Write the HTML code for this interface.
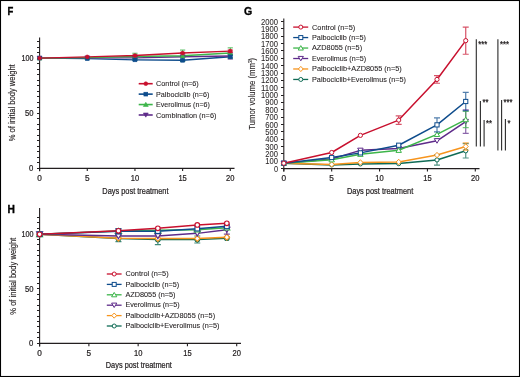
<!DOCTYPE html>
<html><head><meta charset="utf-8"><title>Figure</title>
<style>html,body{margin:0;padding:0;background:#fff;width:520px;height:377px;overflow:hidden;font-family:"Liberation Sans",sans-serif;}</style>
</head><body>
<svg width="520" height="377" viewBox="0 0 520 377" style="display:block;will-change:transform" font-family="Liberation Sans, sans-serif">
<rect x="0" y="0" width="520" height="377" fill="#fff"/>
<text x="7.4" y="15.4" font-size="11.2" text-anchor="start" fill="#000" stroke="#000" stroke-width="0.35" font-weight="bold" textLength="5.8" lengthAdjust="spacingAndGlyphs">F</text>
<text x="243.9" y="15.3" font-size="11.0" text-anchor="start" fill="#000" stroke="#000" stroke-width="0.35" font-weight="bold" textLength="8.2" lengthAdjust="spacingAndGlyphs">G</text>
<text x="7.5" y="212.6" font-size="10.8" text-anchor="start" fill="#000" stroke="#000" stroke-width="0.35" font-weight="bold" textLength="7.4" lengthAdjust="spacingAndGlyphs">H</text>
<path d="M39.6,37.6 V171.3" stroke="#231f20" stroke-width="1.1" fill="none"/>
<path d="M37.0,168.50 H39.6" stroke="#231f20" stroke-width="1.0"/>
<path d="M37.0,162.50 H39.6" stroke="#231f20" stroke-width="1.0"/>
<path d="M37.0,157.50 H39.6" stroke="#231f20" stroke-width="1.0"/>
<path d="M37.0,151.50 H39.6" stroke="#231f20" stroke-width="1.0"/>
<path d="M37.0,146.50 H39.6" stroke="#231f20" stroke-width="1.0"/>
<path d="M37.0,140.50 H39.6" stroke="#231f20" stroke-width="1.0"/>
<path d="M37.0,135.50 H39.6" stroke="#231f20" stroke-width="1.0"/>
<path d="M37.0,129.50 H39.6" stroke="#231f20" stroke-width="1.0"/>
<path d="M37.0,124.50 H39.6" stroke="#231f20" stroke-width="1.0"/>
<path d="M37.0,118.50 H39.6" stroke="#231f20" stroke-width="1.0"/>
<path d="M37.0,113.50 H39.6" stroke="#231f20" stroke-width="1.0"/>
<path d="M37.0,107.50 H39.6" stroke="#231f20" stroke-width="1.0"/>
<path d="M37.0,102.50 H39.6" stroke="#231f20" stroke-width="1.0"/>
<path d="M37.0,96.50 H39.6" stroke="#231f20" stroke-width="1.0"/>
<path d="M37.0,91.50 H39.6" stroke="#231f20" stroke-width="1.0"/>
<path d="M37.0,85.50 H39.6" stroke="#231f20" stroke-width="1.0"/>
<path d="M37.0,80.50 H39.6" stroke="#231f20" stroke-width="1.0"/>
<path d="M37.0,74.50 H39.6" stroke="#231f20" stroke-width="1.0"/>
<path d="M37.0,69.50 H39.6" stroke="#231f20" stroke-width="1.0"/>
<path d="M37.0,63.50 H39.6" stroke="#231f20" stroke-width="1.0"/>
<path d="M37.0,58.50 H39.6" stroke="#231f20" stroke-width="1.0"/>
<path d="M37.0,52.50 H39.6" stroke="#231f20" stroke-width="1.0"/>
<path d="M37.0,47.50 H39.6" stroke="#231f20" stroke-width="1.0"/>
<path d="M37.0,41.50 H39.6" stroke="#231f20" stroke-width="1.0"/>
<text x="33.4" y="171.20" font-size="8.2" text-anchor="end" fill="#231f20" stroke="#231f20" stroke-width="0.22" textLength="4.3" lengthAdjust="spacingAndGlyphs">0</text>
<text x="33.4" y="116.10" font-size="8.2" text-anchor="end" fill="#231f20" stroke="#231f20" stroke-width="0.22" textLength="8.5" lengthAdjust="spacingAndGlyphs">50</text>
<text x="33.4" y="61.00" font-size="8.2" text-anchor="end" fill="#231f20" stroke="#231f20" stroke-width="0.22" textLength="12.0" lengthAdjust="spacingAndGlyphs">100</text>
<text x="15.2" y="102.8" font-size="9.4" text-anchor="middle" fill="#231f20" stroke="#231f20" stroke-width="0.15" textLength="77" lengthAdjust="spacingAndGlyphs" transform="rotate(-90 15.2 102.8)">% of initial body weight</text>
<path d="M39.6,168.3 H234.5" stroke="#231f20" stroke-width="1.2" fill="none"/>
<path d="M39.60,168.3 V171.10000000000002" stroke="#231f20" stroke-width="1.1"/>
<text x="39.60" y="180.90" font-size="8.2" text-anchor="middle" fill="#231f20" stroke="#231f20" stroke-width="0.22" textLength="4.6" lengthAdjust="spacingAndGlyphs">0</text>
<path d="M87.28,168.3 V171.10000000000002" stroke="#231f20" stroke-width="1.1"/>
<text x="87.28" y="180.90" font-size="8.2" text-anchor="middle" fill="#231f20" stroke="#231f20" stroke-width="0.22" textLength="4.6" lengthAdjust="spacingAndGlyphs">5</text>
<path d="M134.95,168.3 V171.10000000000002" stroke="#231f20" stroke-width="1.1"/>
<text x="134.95" y="180.90" font-size="8.2" text-anchor="middle" fill="#231f20" stroke="#231f20" stroke-width="0.22" textLength="8.4" lengthAdjust="spacingAndGlyphs">10</text>
<path d="M182.62,168.3 V171.10000000000002" stroke="#231f20" stroke-width="1.1"/>
<text x="182.62" y="180.90" font-size="8.2" text-anchor="middle" fill="#231f20" stroke="#231f20" stroke-width="0.22" textLength="8.4" lengthAdjust="spacingAndGlyphs">15</text>
<path d="M230.30,168.3 V171.10000000000002" stroke="#231f20" stroke-width="1.1"/>
<text x="230.30" y="180.90" font-size="8.2" text-anchor="middle" fill="#231f20" stroke="#231f20" stroke-width="0.22" textLength="8.4" lengthAdjust="spacingAndGlyphs">20</text>
<text x="102.3" y="194.0" font-size="8.6" text-anchor="start" fill="#231f20" stroke="#231f20" stroke-width="0.22" textLength="66.2" lengthAdjust="spacingAndGlyphs">Days post treatment</text>
<polyline points="39.60,58.10 87.28,58.65 134.95,59.86 182.62,60.30 230.30,56.78" fill="none" stroke="#0e4c8c" stroke-width="1.4" stroke-linejoin="round"/>
<polyline points="39.60,58.10 87.28,57.88 134.95,57.88 182.62,56.78 230.30,56.01" fill="none" stroke="#5e2b8a" stroke-width="1.4" stroke-linejoin="round"/>
<polyline points="39.60,58.10 87.28,57.66 134.95,56.56 182.62,55.79 230.30,53.03" fill="none" stroke="#3db54a" stroke-width="1.4" stroke-linejoin="round"/>
<polyline points="39.60,58.10 87.28,56.89 134.95,55.57 182.62,53.03 230.30,51.16" fill="none" stroke="#c8102e" stroke-width="1.4" stroke-linejoin="round"/>
<path d="M134.95,57.33 V58.43 M132.35,57.33 H137.55 M132.35,58.43 H137.55" stroke="#5e2b8a" stroke-width="0.9" fill="none"/>
<path d="M182.62,56.23 V57.33 M180.03,56.23 H185.22 M180.03,57.33 H185.22" stroke="#5e2b8a" stroke-width="0.9" fill="none"/>
<path d="M230.30,52.92 V59.09 M227.70,52.92 H232.90 M227.70,59.09 H232.90" stroke="#5e2b8a" stroke-width="0.9" fill="none"/>
<path d="M39.60,60.29 L42.07,56.11 L37.13,56.11 Z" fill="#5e2b8a" stroke="#5e2b8a" stroke-width="0.6" stroke-linejoin="miter"/>
<path d="M87.28,60.06 L89.75,55.88 L84.81,55.88 Z" fill="#5e2b8a" stroke="#5e2b8a" stroke-width="0.6" stroke-linejoin="miter"/>
<path d="M134.95,60.06 L137.42,55.88 L132.48,55.88 Z" fill="#5e2b8a" stroke="#5e2b8a" stroke-width="0.6" stroke-linejoin="miter"/>
<path d="M182.62,58.96 L185.09,54.78 L180.16,54.78 Z" fill="#5e2b8a" stroke="#5e2b8a" stroke-width="0.6" stroke-linejoin="miter"/>
<path d="M230.30,58.19 L232.77,54.01 L227.83,54.01 Z" fill="#5e2b8a" stroke="#5e2b8a" stroke-width="0.6" stroke-linejoin="miter"/>
<path d="M134.95,53.25 V59.86 M132.35,53.25 H137.55 M132.35,59.86 H137.55" stroke="#3db54a" stroke-width="0.9" fill="none"/>
<path d="M182.62,50.06 V61.52 M180.03,50.06 H185.22 M180.03,61.52 H185.22" stroke="#3db54a" stroke-width="0.9" fill="none"/>
<path d="M230.30,47.85 V58.21 M227.70,47.85 H232.90 M227.70,58.21 H232.90" stroke="#3db54a" stroke-width="0.9" fill="none"/>
<path d="M39.60,55.82 L42.07,60.00 L37.13,60.00 Z" fill="#3db54a" stroke="#3db54a" stroke-width="0.6" stroke-linejoin="miter"/>
<path d="M87.28,55.38 L89.75,59.56 L84.81,59.56 Z" fill="#3db54a" stroke="#3db54a" stroke-width="0.6" stroke-linejoin="miter"/>
<path d="M134.95,54.28 L137.42,58.46 L132.48,58.46 Z" fill="#3db54a" stroke="#3db54a" stroke-width="0.6" stroke-linejoin="miter"/>
<path d="M182.62,53.51 L185.09,57.69 L180.16,57.69 Z" fill="#3db54a" stroke="#3db54a" stroke-width="0.6" stroke-linejoin="miter"/>
<path d="M230.30,50.75 L232.77,54.93 L227.83,54.93 Z" fill="#3db54a" stroke="#3db54a" stroke-width="0.6" stroke-linejoin="miter"/>
<path d="M134.95,59.20 V60.52 M132.35,59.20 H137.55 M132.35,60.52 H137.55" stroke="#0e4c8c" stroke-width="0.9" fill="none"/>
<path d="M182.62,59.64 V60.97 M180.03,59.64 H185.22 M180.03,60.97 H185.22" stroke="#0e4c8c" stroke-width="0.9" fill="none"/>
<path d="M230.30,55.68 V57.88 M227.70,55.68 H232.90 M227.70,57.88 H232.90" stroke="#0e4c8c" stroke-width="0.9" fill="none"/>
<rect x="37.70" y="56.20" width="3.80" height="3.80" fill="#0e4c8c" stroke="#0e4c8c" stroke-width="0.6"/>
<rect x="85.38" y="56.75" width="3.80" height="3.80" fill="#0e4c8c" stroke="#0e4c8c" stroke-width="0.6"/>
<rect x="133.05" y="57.96" width="3.80" height="3.80" fill="#0e4c8c" stroke="#0e4c8c" stroke-width="0.6"/>
<rect x="180.72" y="58.40" width="3.80" height="3.80" fill="#0e4c8c" stroke="#0e4c8c" stroke-width="0.6"/>
<rect x="228.40" y="54.88" width="3.80" height="3.80" fill="#0e4c8c" stroke="#0e4c8c" stroke-width="0.6"/>
<path d="M134.95,54.90 V56.23 M132.35,54.90 H137.55 M132.35,56.23 H137.55" stroke="#c8102e" stroke-width="0.9" fill="none"/>
<path d="M182.62,52.37 V53.69 M180.03,52.37 H185.22 M180.03,53.69 H185.22" stroke="#c8102e" stroke-width="0.9" fill="none"/>
<path d="M230.30,50.06 V52.26 M227.70,50.06 H232.90 M227.70,52.26 H232.90" stroke="#c8102e" stroke-width="0.9" fill="none"/>
<circle cx="39.60" cy="58.10" r="1.90" fill="#c8102e" stroke="#c8102e" stroke-width="0.6"/>
<circle cx="87.28" cy="56.89" r="1.90" fill="#c8102e" stroke="#c8102e" stroke-width="0.6"/>
<circle cx="134.95" cy="55.57" r="1.90" fill="#c8102e" stroke="#c8102e" stroke-width="0.6"/>
<circle cx="182.62" cy="53.03" r="1.90" fill="#c8102e" stroke="#c8102e" stroke-width="0.6"/>
<circle cx="230.30" cy="51.16" r="1.90" fill="#c8102e" stroke="#c8102e" stroke-width="0.6"/>
<path d="M138.7,83.70 H152.7" stroke="#c8102e" stroke-width="1.6"/>
<circle cx="145.80" cy="83.70" r="1.90" fill="#c8102e" stroke="#c8102e" stroke-width="0.6"/>
<text x="156.0" y="86.30" font-size="7.3" text-anchor="start" fill="#231f20" stroke="#231f20" stroke-width="0.08" textLength="42.8" lengthAdjust="spacingAndGlyphs">Control (n=6)</text>
<path d="M138.7,94.13 H152.7" stroke="#0e4c8c" stroke-width="1.6"/>
<rect x="143.90" y="92.23" width="3.80" height="3.80" fill="#0e4c8c" stroke="#0e4c8c" stroke-width="0.6"/>
<text x="156.0" y="96.73" font-size="7.3" text-anchor="start" fill="#231f20" stroke="#231f20" stroke-width="0.08" textLength="53.4" lengthAdjust="spacingAndGlyphs">Palbociclib (n=6)</text>
<path d="M138.7,104.56 H152.7" stroke="#3db54a" stroke-width="1.6"/>
<path d="M145.80,102.28 L148.27,106.46 L143.33,106.46 Z" fill="#3db54a" stroke="#3db54a" stroke-width="0.6" stroke-linejoin="miter"/>
<text x="156.0" y="107.16" font-size="7.3" text-anchor="start" fill="#231f20" stroke="#231f20" stroke-width="0.08" textLength="53.9" lengthAdjust="spacingAndGlyphs">Everolimus (n=6)</text>
<path d="M138.7,114.99 H152.7" stroke="#5e2b8a" stroke-width="1.6"/>
<path d="M145.80,117.18 L148.27,113.00 L143.33,113.00 Z" fill="#5e2b8a" stroke="#5e2b8a" stroke-width="0.6" stroke-linejoin="miter"/>
<text x="156.0" y="117.59" font-size="7.3" text-anchor="start" fill="#231f20" stroke="#231f20" stroke-width="0.08" textLength="60.4" lengthAdjust="spacingAndGlyphs">Combination (n=6)</text>
<path d="M283.8,18.4 V171.6" stroke="#231f20" stroke-width="1.1" fill="none"/>
<path d="M281.0,168.50 H283.8" stroke="#231f20" stroke-width="1.0"/>
<text x="278.0" y="171.60" font-size="8.6" text-anchor="end" fill="#231f20" stroke="#231f20" stroke-width="0.05" textLength="4.1" lengthAdjust="spacingAndGlyphs">0</text>
<path d="M281.0,161.50 H283.8" stroke="#231f20" stroke-width="1.0"/>
<text x="278.0" y="164.25" font-size="8.6" text-anchor="end" fill="#231f20" stroke="#231f20" stroke-width="0.05" textLength="12.7" lengthAdjust="spacingAndGlyphs">100</text>
<path d="M281.0,153.50 H283.8" stroke="#231f20" stroke-width="1.0"/>
<text x="278.0" y="156.90" font-size="8.6" text-anchor="end" fill="#231f20" stroke="#231f20" stroke-width="0.05" textLength="12.7" lengthAdjust="spacingAndGlyphs">200</text>
<path d="M281.0,146.50 H283.8" stroke="#231f20" stroke-width="1.0"/>
<text x="278.0" y="149.55" font-size="8.6" text-anchor="end" fill="#231f20" stroke="#231f20" stroke-width="0.05" textLength="12.7" lengthAdjust="spacingAndGlyphs">300</text>
<path d="M281.0,139.50 H283.8" stroke="#231f20" stroke-width="1.0"/>
<text x="278.0" y="142.20" font-size="8.6" text-anchor="end" fill="#231f20" stroke="#231f20" stroke-width="0.05" textLength="12.7" lengthAdjust="spacingAndGlyphs">400</text>
<path d="M281.0,131.50 H283.8" stroke="#231f20" stroke-width="1.0"/>
<text x="278.0" y="134.85" font-size="8.6" text-anchor="end" fill="#231f20" stroke="#231f20" stroke-width="0.05" textLength="12.7" lengthAdjust="spacingAndGlyphs">500</text>
<path d="M281.0,124.50 H283.8" stroke="#231f20" stroke-width="1.0"/>
<text x="278.0" y="127.50" font-size="8.6" text-anchor="end" fill="#231f20" stroke="#231f20" stroke-width="0.05" textLength="12.7" lengthAdjust="spacingAndGlyphs">600</text>
<path d="M281.0,117.50 H283.8" stroke="#231f20" stroke-width="1.0"/>
<text x="278.0" y="120.15" font-size="8.6" text-anchor="end" fill="#231f20" stroke="#231f20" stroke-width="0.05" textLength="12.7" lengthAdjust="spacingAndGlyphs">700</text>
<path d="M281.0,109.50 H283.8" stroke="#231f20" stroke-width="1.0"/>
<text x="278.0" y="112.80" font-size="8.6" text-anchor="end" fill="#231f20" stroke="#231f20" stroke-width="0.05" textLength="12.7" lengthAdjust="spacingAndGlyphs">800</text>
<path d="M281.0,102.50 H283.8" stroke="#231f20" stroke-width="1.0"/>
<text x="278.0" y="105.45" font-size="8.6" text-anchor="end" fill="#231f20" stroke="#231f20" stroke-width="0.05" textLength="12.7" lengthAdjust="spacingAndGlyphs">900</text>
<path d="M281.0,95.50 H283.8" stroke="#231f20" stroke-width="1.0"/>
<text x="278.0" y="98.10" font-size="8.6" text-anchor="end" fill="#231f20" stroke="#231f20" stroke-width="0.05" textLength="17.0" lengthAdjust="spacingAndGlyphs">1000</text>
<path d="M281.0,87.50 H283.8" stroke="#231f20" stroke-width="1.0"/>
<text x="278.0" y="90.75" font-size="8.6" text-anchor="end" fill="#231f20" stroke="#231f20" stroke-width="0.05" textLength="17.0" lengthAdjust="spacingAndGlyphs">1100</text>
<path d="M281.0,80.50 H283.8" stroke="#231f20" stroke-width="1.0"/>
<text x="278.0" y="83.40" font-size="8.6" text-anchor="end" fill="#231f20" stroke="#231f20" stroke-width="0.05" textLength="17.0" lengthAdjust="spacingAndGlyphs">1200</text>
<path d="M281.0,73.50 H283.8" stroke="#231f20" stroke-width="1.0"/>
<text x="278.0" y="76.05" font-size="8.6" text-anchor="end" fill="#231f20" stroke="#231f20" stroke-width="0.05" textLength="17.0" lengthAdjust="spacingAndGlyphs">1300</text>
<path d="M281.0,65.50 H283.8" stroke="#231f20" stroke-width="1.0"/>
<text x="278.0" y="68.70" font-size="8.6" text-anchor="end" fill="#231f20" stroke="#231f20" stroke-width="0.05" textLength="17.0" lengthAdjust="spacingAndGlyphs">1400</text>
<path d="M281.0,58.50 H283.8" stroke="#231f20" stroke-width="1.0"/>
<text x="278.0" y="61.35" font-size="8.6" text-anchor="end" fill="#231f20" stroke="#231f20" stroke-width="0.05" textLength="17.0" lengthAdjust="spacingAndGlyphs">1500</text>
<path d="M281.0,50.50 H283.8" stroke="#231f20" stroke-width="1.0"/>
<text x="278.0" y="54.00" font-size="8.6" text-anchor="end" fill="#231f20" stroke="#231f20" stroke-width="0.05" textLength="17.0" lengthAdjust="spacingAndGlyphs">1600</text>
<path d="M281.0,43.50 H283.8" stroke="#231f20" stroke-width="1.0"/>
<text x="278.0" y="46.65" font-size="8.6" text-anchor="end" fill="#231f20" stroke="#231f20" stroke-width="0.05" textLength="17.0" lengthAdjust="spacingAndGlyphs">1700</text>
<path d="M281.0,36.50 H283.8" stroke="#231f20" stroke-width="1.0"/>
<text x="278.0" y="39.30" font-size="8.6" text-anchor="end" fill="#231f20" stroke="#231f20" stroke-width="0.05" textLength="17.0" lengthAdjust="spacingAndGlyphs">1800</text>
<path d="M281.0,28.50 H283.8" stroke="#231f20" stroke-width="1.0"/>
<text x="278.0" y="31.95" font-size="8.6" text-anchor="end" fill="#231f20" stroke="#231f20" stroke-width="0.05" textLength="17.0" lengthAdjust="spacingAndGlyphs">1900</text>
<path d="M281.0,21.50 H283.8" stroke="#231f20" stroke-width="1.0"/>
<text x="278.0" y="24.60" font-size="8.6" text-anchor="end" fill="#231f20" stroke="#231f20" stroke-width="0.05" textLength="17.0" lengthAdjust="spacingAndGlyphs">2000</text>
<path d="M283.8,168.6 H479.5" stroke="#231f20" stroke-width="1.2" fill="none"/>
<path d="M283.80,168.6 V171.4" stroke="#231f20" stroke-width="1.1"/>
<text x="283.80" y="181.20" font-size="8.2" text-anchor="middle" fill="#231f20" stroke="#231f20" stroke-width="0.22" textLength="4.6" lengthAdjust="spacingAndGlyphs">0</text>
<path d="M331.68,168.6 V171.4" stroke="#231f20" stroke-width="1.1"/>
<text x="331.68" y="181.20" font-size="8.2" text-anchor="middle" fill="#231f20" stroke="#231f20" stroke-width="0.22" textLength="4.6" lengthAdjust="spacingAndGlyphs">5</text>
<path d="M379.55,168.6 V171.4" stroke="#231f20" stroke-width="1.1"/>
<text x="379.55" y="181.20" font-size="8.2" text-anchor="middle" fill="#231f20" stroke="#231f20" stroke-width="0.22" textLength="8.4" lengthAdjust="spacingAndGlyphs">10</text>
<path d="M427.43,168.6 V171.4" stroke="#231f20" stroke-width="1.1"/>
<text x="427.43" y="181.20" font-size="8.2" text-anchor="middle" fill="#231f20" stroke="#231f20" stroke-width="0.22" textLength="8.4" lengthAdjust="spacingAndGlyphs">15</text>
<path d="M475.30,168.6 V171.4" stroke="#231f20" stroke-width="1.1"/>
<text x="475.30" y="181.20" font-size="8.2" text-anchor="middle" fill="#231f20" stroke="#231f20" stroke-width="0.22" textLength="8.4" lengthAdjust="spacingAndGlyphs">20</text>
<text x="346.9" y="194.0" font-size="8.6" text-anchor="start" fill="#231f20" stroke="#231f20" stroke-width="0.22" textLength="66.4" lengthAdjust="spacingAndGlyphs">Days post treatment</text>
<text x="255.3" y="93.8" font-size="9.8" text-anchor="middle" fill="#231f20" stroke="#231f20" stroke-width="0.12" transform="rotate(-90 255.3 93.8)" textLength="72" lengthAdjust="spacingAndGlyphs">Tumor volume (mm<tspan font-size="6" dy="-3.6">3</tspan><tspan dy="3.6">)</tspan></text>
<polyline points="283.80,163.23 331.68,164.92 360.40,163.90 398.70,163.60 437.00,159.93 465.73,150.81" fill="none" stroke="#0f6b55" stroke-width="1.5" stroke-linejoin="round"/>
<polyline points="283.80,163.23 331.68,164.41 360.40,162.43 398.70,161.98 437.00,155.08 465.73,146.48" fill="none" stroke="#f7941d" stroke-width="1.5" stroke-linejoin="round"/>
<polyline points="283.80,163.23 331.68,159.04 360.40,150.37 398.70,148.39 437.00,140.82 465.73,121.56" fill="none" stroke="#5e2b8a" stroke-width="1.5" stroke-linejoin="round"/>
<polyline points="283.80,163.23 331.68,159.78 360.40,154.27 398.70,150.30 437.00,134.42 465.73,119.58" fill="none" stroke="#3db54a" stroke-width="1.5" stroke-linejoin="round"/>
<polyline points="283.80,163.23 331.68,157.50 360.40,152.87 398.70,145.23 437.00,124.87 465.73,101.49" fill="none" stroke="#0e4c8c" stroke-width="1.5" stroke-linejoin="round"/>
<polyline points="283.80,163.23 331.68,152.50 360.40,135.38 398.70,120.09 437.00,79.44 465.73,40.64" fill="none" stroke="#c8102e" stroke-width="1.5" stroke-linejoin="round"/>
<path d="M437.00,154.78 V165.07 M434.00,154.78 H440.00 M434.00,165.07 H440.00" stroke="#0f6b55" stroke-opacity="0.72" stroke-width="1.2" fill="none"/>
<path d="M465.73,143.61 V158.02 M462.73,143.61 H468.73 M462.73,158.02 H468.73" stroke="#0f6b55" stroke-opacity="0.72" stroke-width="1.2" fill="none"/>
<circle cx="283.80" cy="163.23" r="2.10" fill="#fff" stroke="#0f6b55" stroke-width="1.0"/>
<circle cx="331.68" cy="164.92" r="2.10" fill="#fff" stroke="#0f6b55" stroke-width="1.0"/>
<circle cx="360.40" cy="163.90" r="2.10" fill="#fff" stroke="#0f6b55" stroke-width="1.0"/>
<circle cx="398.70" cy="163.60" r="2.10" fill="#fff" stroke="#0f6b55" stroke-width="1.0"/>
<circle cx="437.00" cy="159.93" r="2.10" fill="#fff" stroke="#0f6b55" stroke-width="1.0"/>
<circle cx="465.73" cy="150.81" r="2.10" fill="#fff" stroke="#0f6b55" stroke-width="1.0"/>
<path d="M465.73,142.80 V150.15 M462.73,142.80 H468.73 M462.73,150.15 H468.73" stroke="#f7941d" stroke-opacity="0.72" stroke-width="1.2" fill="none"/>
<path d="M283.80,160.50 L286.32,163.23 L283.80,165.96 L281.28,163.23 Z" fill="#fff" stroke="#f7941d" stroke-width="1.0"/>
<path d="M331.68,161.68 L334.19,164.41 L331.68,167.14 L329.16,164.41 Z" fill="#fff" stroke="#f7941d" stroke-width="1.0"/>
<path d="M360.40,159.70 L362.92,162.43 L360.40,165.16 L357.88,162.43 Z" fill="#fff" stroke="#f7941d" stroke-width="1.0"/>
<path d="M398.70,159.25 L401.22,161.98 L398.70,164.71 L396.18,161.98 Z" fill="#fff" stroke="#f7941d" stroke-width="1.0"/>
<path d="M437.00,152.35 L439.52,155.08 L437.00,157.81 L434.48,155.08 Z" fill="#fff" stroke="#f7941d" stroke-width="1.0"/>
<path d="M465.73,143.75 L468.25,146.48 L465.73,149.21 L463.21,146.48 Z" fill="#fff" stroke="#f7941d" stroke-width="1.0"/>
<path d="M465.73,109.80 V133.32 M462.73,109.80 H468.73 M462.73,133.32 H468.73" stroke="#5e2b8a" stroke-opacity="0.72" stroke-width="1.2" fill="none"/>
<path d="M283.80,165.65 L286.53,161.03 L281.07,161.03 Z" fill="#fff" stroke="#5e2b8a" stroke-width="1.0" stroke-linejoin="miter"/>
<path d="M331.68,161.46 L334.41,156.84 L328.94,156.84 Z" fill="#fff" stroke="#5e2b8a" stroke-width="1.0" stroke-linejoin="miter"/>
<path d="M360.40,152.79 L363.13,148.17 L357.67,148.17 Z" fill="#fff" stroke="#5e2b8a" stroke-width="1.0" stroke-linejoin="miter"/>
<path d="M398.70,150.80 L401.43,146.18 L395.97,146.18 Z" fill="#fff" stroke="#5e2b8a" stroke-width="1.0" stroke-linejoin="miter"/>
<path d="M437.00,143.23 L439.73,138.61 L434.27,138.61 Z" fill="#fff" stroke="#5e2b8a" stroke-width="1.0" stroke-linejoin="miter"/>
<path d="M465.73,123.98 L468.46,119.36 L463.00,119.36 Z" fill="#fff" stroke="#5e2b8a" stroke-width="1.0" stroke-linejoin="miter"/>
<path d="M465.73,111.49 V127.66 M462.73,111.49 H468.73 M462.73,127.66 H468.73" stroke="#3db54a" stroke-opacity="0.72" stroke-width="1.2" fill="none"/>
<path d="M283.80,160.71 L286.53,165.33 L281.07,165.33 Z" fill="#fff" stroke="#3db54a" stroke-width="1.0" stroke-linejoin="miter"/>
<path d="M331.68,157.26 L334.41,161.88 L328.94,161.88 Z" fill="#fff" stroke="#3db54a" stroke-width="1.0" stroke-linejoin="miter"/>
<path d="M360.40,151.75 L363.13,156.37 L357.67,156.37 Z" fill="#fff" stroke="#3db54a" stroke-width="1.0" stroke-linejoin="miter"/>
<path d="M398.70,147.78 L401.43,152.40 L395.97,152.40 Z" fill="#fff" stroke="#3db54a" stroke-width="1.0" stroke-linejoin="miter"/>
<path d="M437.00,131.90 L439.73,136.52 L434.27,136.52 Z" fill="#fff" stroke="#3db54a" stroke-width="1.0" stroke-linejoin="miter"/>
<path d="M465.73,117.06 L468.46,121.68 L463.00,121.68 Z" fill="#fff" stroke="#3db54a" stroke-width="1.0" stroke-linejoin="miter"/>
<path d="M437.00,117.88 V131.85 M434.00,117.88 H440.00 M434.00,131.85 H440.00" stroke="#0e4c8c" stroke-opacity="0.72" stroke-width="1.2" fill="none"/>
<path d="M465.73,92.31 V110.68 M462.73,92.31 H468.73 M462.73,110.68 H468.73" stroke="#0e4c8c" stroke-opacity="0.72" stroke-width="1.2" fill="none"/>
<rect x="281.70" y="161.13" width="4.20" height="4.20" fill="#fff" stroke="#0e4c8c" stroke-width="1.0"/>
<rect x="329.57" y="155.40" width="4.20" height="4.20" fill="#fff" stroke="#0e4c8c" stroke-width="1.0"/>
<rect x="358.30" y="150.77" width="4.20" height="4.20" fill="#fff" stroke="#0e4c8c" stroke-width="1.0"/>
<rect x="396.60" y="143.13" width="4.20" height="4.20" fill="#fff" stroke="#0e4c8c" stroke-width="1.0"/>
<rect x="434.90" y="122.77" width="4.20" height="4.20" fill="#fff" stroke="#0e4c8c" stroke-width="1.0"/>
<rect x="463.62" y="99.39" width="4.20" height="4.20" fill="#fff" stroke="#0e4c8c" stroke-width="1.0"/>
<path d="M398.70,115.90 V124.28 M395.70,115.90 H401.70 M395.70,124.28 H401.70" stroke="#c8102e" stroke-opacity="0.72" stroke-width="1.2" fill="none"/>
<path d="M437.00,75.62 V83.27 M434.00,75.62 H440.00 M434.00,83.27 H440.00" stroke="#c8102e" stroke-opacity="0.72" stroke-width="1.2" fill="none"/>
<path d="M465.73,27.04 V54.23 M462.73,27.04 H468.73 M462.73,54.23 H468.73" stroke="#c8102e" stroke-opacity="0.72" stroke-width="1.2" fill="none"/>
<circle cx="283.80" cy="163.23" r="2.10" fill="#fff" stroke="#c8102e" stroke-width="1.0"/>
<circle cx="331.68" cy="152.50" r="2.10" fill="#fff" stroke="#c8102e" stroke-width="1.0"/>
<circle cx="360.40" cy="135.38" r="2.10" fill="#fff" stroke="#c8102e" stroke-width="1.0"/>
<circle cx="398.70" cy="120.09" r="2.10" fill="#fff" stroke="#c8102e" stroke-width="1.0"/>
<circle cx="437.00" cy="79.44" r="2.10" fill="#fff" stroke="#c8102e" stroke-width="1.0"/>
<circle cx="465.73" cy="40.64" r="2.10" fill="#fff" stroke="#c8102e" stroke-width="1.0"/>
<path d="M293.2,27.10 H308.2" stroke="#c8102e" stroke-width="1.3"/>
<circle cx="300.80" cy="27.10" r="2.00" fill="#fff" stroke="#c8102e" stroke-width="1.0"/>
<text x="312.0" y="29.50" font-size="7.3" text-anchor="start" fill="#231f20" stroke="#231f20" stroke-width="0.08" textLength="43.2" lengthAdjust="spacingAndGlyphs">Control (n=5)</text>
<path d="M293.2,37.57 H308.2" stroke="#0e4c8c" stroke-width="1.3"/>
<rect x="298.80" y="35.57" width="4.00" height="4.00" fill="#fff" stroke="#0e4c8c" stroke-width="1.0"/>
<text x="312.0" y="39.97" font-size="7.3" text-anchor="start" fill="#231f20" stroke="#231f20" stroke-width="0.08" textLength="53.9" lengthAdjust="spacingAndGlyphs">Palbociclib (n=5)</text>
<path d="M293.2,48.04 H308.2" stroke="#3db54a" stroke-width="1.3"/>
<path d="M300.80,45.64 L303.40,50.04 L298.20,50.04 Z" fill="#fff" stroke="#3db54a" stroke-width="1.0" stroke-linejoin="miter"/>
<text x="312.0" y="50.44" font-size="7.3" text-anchor="start" fill="#231f20" stroke="#231f20" stroke-width="0.08" textLength="50.1" lengthAdjust="spacingAndGlyphs">AZD8055 (n=5)</text>
<path d="M293.2,58.51 H308.2" stroke="#5e2b8a" stroke-width="1.3"/>
<path d="M300.80,60.81 L303.40,56.41 L298.20,56.41 Z" fill="#fff" stroke="#5e2b8a" stroke-width="1.0" stroke-linejoin="miter"/>
<text x="312.0" y="60.91" font-size="7.3" text-anchor="start" fill="#231f20" stroke="#231f20" stroke-width="0.08" textLength="54.2" lengthAdjust="spacingAndGlyphs">Everolimus (n=5)</text>
<path d="M293.2,68.98 H308.2" stroke="#f7941d" stroke-width="1.3"/>
<path d="M300.80,66.38 L303.20,68.98 L300.80,71.58 L298.40,68.98 Z" fill="#fff" stroke="#f7941d" stroke-width="1.0"/>
<text x="312.0" y="71.38" font-size="7.3" text-anchor="start" fill="#231f20" stroke="#231f20" stroke-width="0.08" textLength="89.7" lengthAdjust="spacingAndGlyphs">Palbociclib+AZD8055 (n=5)</text>
<path d="M293.2,79.45 H308.2" stroke="#0f6b55" stroke-width="1.3"/>
<circle cx="300.80" cy="79.45" r="2.00" fill="#fff" stroke="#0f6b55" stroke-width="1.0"/>
<text x="312.0" y="81.85" font-size="7.3" text-anchor="start" fill="#231f20" stroke="#231f20" stroke-width="0.08" textLength="94.0" lengthAdjust="spacingAndGlyphs">Palbociclib+Everolimus (n=5)</text>
<path d="M476.3,39.3 V146.5" stroke="#2a2a2a" stroke-width="1.1"/>
<path d="M480.4,101 V146.5" stroke="#2a2a2a" stroke-width="1.1"/>
<path d="M484.1,120 V146.5" stroke="#2a2a2a" stroke-width="1.1"/>
<path d="M497.9,39.3 V150.4" stroke="#2a2a2a" stroke-width="1.1"/>
<path d="M501.6,100 V150.4" stroke="#2a2a2a" stroke-width="1.1"/>
<path d="M505.4,119 V150.4" stroke="#2a2a2a" stroke-width="1.1"/>
<text x="478.2" y="47.2" font-size="8.5" text-anchor="start" fill="#231f20" stroke="#231f20" stroke-width="0.25" textLength="9" lengthAdjust="spacingAndGlyphs">***</text>
<text x="500.0" y="47.2" font-size="8.5" text-anchor="start" fill="#231f20" stroke="#231f20" stroke-width="0.25" textLength="9" lengthAdjust="spacingAndGlyphs">***</text>
<text x="482.5" y="105.2" font-size="8.5" text-anchor="start" fill="#231f20" stroke="#231f20" stroke-width="0.25" textLength="6" lengthAdjust="spacingAndGlyphs">**</text>
<text x="503.5" y="105.2" font-size="8.5" text-anchor="start" fill="#231f20" stroke="#231f20" stroke-width="0.25" textLength="9" lengthAdjust="spacingAndGlyphs">***</text>
<text x="486" y="125.9" font-size="8.5" text-anchor="start" fill="#231f20" stroke="#231f20" stroke-width="0.25" textLength="6" lengthAdjust="spacingAndGlyphs">**</text>
<text x="507.5" y="125.9" font-size="8.5" text-anchor="start" fill="#231f20" stroke="#231f20" stroke-width="0.25" textLength="3" lengthAdjust="spacingAndGlyphs">*</text>
<path d="M39.6,208 V346.4" stroke="#231f20" stroke-width="1.1" fill="none"/>
<path d="M37.0,343.50 H39.6" stroke="#231f20" stroke-width="1.0"/>
<path d="M37.0,337.50 H39.6" stroke="#231f20" stroke-width="1.0"/>
<path d="M37.0,332.50 H39.6" stroke="#231f20" stroke-width="1.0"/>
<path d="M37.0,326.50 H39.6" stroke="#231f20" stroke-width="1.0"/>
<path d="M37.0,321.50 H39.6" stroke="#231f20" stroke-width="1.0"/>
<path d="M37.0,316.50 H39.6" stroke="#231f20" stroke-width="1.0"/>
<path d="M37.0,310.50 H39.6" stroke="#231f20" stroke-width="1.0"/>
<path d="M37.0,305.50 H39.6" stroke="#231f20" stroke-width="1.0"/>
<path d="M37.0,299.50 H39.6" stroke="#231f20" stroke-width="1.0"/>
<path d="M37.0,294.50 H39.6" stroke="#231f20" stroke-width="1.0"/>
<path d="M37.0,288.50 H39.6" stroke="#231f20" stroke-width="1.0"/>
<path d="M37.0,283.50 H39.6" stroke="#231f20" stroke-width="1.0"/>
<path d="M37.0,277.50 H39.6" stroke="#231f20" stroke-width="1.0"/>
<path d="M37.0,272.50 H39.6" stroke="#231f20" stroke-width="1.0"/>
<path d="M37.0,266.50 H39.6" stroke="#231f20" stroke-width="1.0"/>
<path d="M37.0,261.50 H39.6" stroke="#231f20" stroke-width="1.0"/>
<path d="M37.0,255.50 H39.6" stroke="#231f20" stroke-width="1.0"/>
<path d="M37.0,250.50 H39.6" stroke="#231f20" stroke-width="1.0"/>
<path d="M37.0,244.50 H39.6" stroke="#231f20" stroke-width="1.0"/>
<path d="M37.0,239.50 H39.6" stroke="#231f20" stroke-width="1.0"/>
<path d="M37.0,233.50 H39.6" stroke="#231f20" stroke-width="1.0"/>
<path d="M37.0,228.50 H39.6" stroke="#231f20" stroke-width="1.0"/>
<path d="M37.0,222.50 H39.6" stroke="#231f20" stroke-width="1.0"/>
<path d="M37.0,217.50 H39.6" stroke="#231f20" stroke-width="1.0"/>
<text x="33.4" y="346.30" font-size="8.2" text-anchor="end" fill="#231f20" stroke="#231f20" stroke-width="0.22" textLength="4.3" lengthAdjust="spacingAndGlyphs">0</text>
<text x="33.4" y="291.55" font-size="8.2" text-anchor="end" fill="#231f20" stroke="#231f20" stroke-width="0.22" textLength="8.5" lengthAdjust="spacingAndGlyphs">50</text>
<text x="33.4" y="236.80" font-size="8.2" text-anchor="end" fill="#231f20" stroke="#231f20" stroke-width="0.22" textLength="12.0" lengthAdjust="spacingAndGlyphs">100</text>
<text x="15.6" y="276.2" font-size="9.4" text-anchor="middle" fill="#231f20" stroke="#231f20" stroke-width="0.15" textLength="77" lengthAdjust="spacingAndGlyphs" transform="rotate(-90 15.6 276.2)">% of initial body weight</text>
<path d="M39.6,343.4 H241" stroke="#231f20" stroke-width="1.2" fill="none"/>
<path d="M39.60,343.4 V346.2" stroke="#231f20" stroke-width="1.1"/>
<text x="39.60" y="356.00" font-size="8.2" text-anchor="middle" fill="#231f20" stroke="#231f20" stroke-width="0.22" textLength="4.6" lengthAdjust="spacingAndGlyphs">0</text>
<path d="M88.88,343.4 V346.2" stroke="#231f20" stroke-width="1.1"/>
<text x="88.88" y="356.00" font-size="8.2" text-anchor="middle" fill="#231f20" stroke="#231f20" stroke-width="0.22" textLength="4.6" lengthAdjust="spacingAndGlyphs">5</text>
<path d="M138.15,343.4 V346.2" stroke="#231f20" stroke-width="1.1"/>
<text x="138.15" y="356.00" font-size="8.2" text-anchor="middle" fill="#231f20" stroke="#231f20" stroke-width="0.22" textLength="8.4" lengthAdjust="spacingAndGlyphs">10</text>
<path d="M187.43,343.4 V346.2" stroke="#231f20" stroke-width="1.1"/>
<text x="187.43" y="356.00" font-size="8.2" text-anchor="middle" fill="#231f20" stroke="#231f20" stroke-width="0.22" textLength="8.4" lengthAdjust="spacingAndGlyphs">15</text>
<path d="M236.70,343.4 V346.2" stroke="#231f20" stroke-width="1.1"/>
<text x="236.70" y="356.00" font-size="8.2" text-anchor="middle" fill="#231f20" stroke="#231f20" stroke-width="0.22" textLength="8.4" lengthAdjust="spacingAndGlyphs">20</text>
<text x="105.8" y="368.2" font-size="8.6" text-anchor="start" fill="#231f20" stroke="#231f20" stroke-width="0.22" textLength="66.0" lengthAdjust="spacingAndGlyphs">Days post treatment</text>
<polyline points="39.60,234.25 118.44,238.52 157.86,239.51 197.28,239.51 226.84,238.19" fill="none" stroke="#0f6b55" stroke-width="1.5" stroke-linejoin="round"/>
<polyline points="39.60,234.25 118.44,238.19 157.86,238.52 197.28,238.52 226.84,237.21" fill="none" stroke="#f7941d" stroke-width="1.5" stroke-linejoin="round"/>
<polyline points="39.60,234.25 118.44,236.11 157.86,236.00 197.28,233.37 226.84,229.65" fill="none" stroke="#5e2b8a" stroke-width="1.5" stroke-linejoin="round"/>
<polyline points="39.60,234.25 118.44,231.07 157.86,230.31 197.28,229.65 226.84,227.68" fill="none" stroke="#3db54a" stroke-width="1.5" stroke-linejoin="round"/>
<polyline points="39.60,234.25 118.44,231.18 157.86,231.18 197.28,228.67 226.84,226.37" fill="none" stroke="#0e4c8c" stroke-width="1.5" stroke-linejoin="round"/>
<polyline points="39.60,234.25 118.44,230.75 157.86,228.34 197.28,224.94 226.84,223.30" fill="none" stroke="#c8102e" stroke-width="1.5" stroke-linejoin="round"/>
<path d="M118.44,235.45 V241.59 M115.44,235.45 H121.44 M115.44,241.59 H121.44" stroke="#0f6b55" stroke-opacity="0.8" stroke-width="1.2" fill="none"/>
<path d="M157.86,234.47 V244.54 M154.86,234.47 H160.86 M154.86,244.54 H160.86" stroke="#0f6b55" stroke-opacity="0.8" stroke-width="1.2" fill="none"/>
<path d="M197.28,236.00 V243.01 M194.28,236.00 H200.28 M194.28,243.01 H200.28" stroke="#0f6b55" stroke-opacity="0.8" stroke-width="1.2" fill="none"/>
<circle cx="39.60" cy="234.25" r="2.30" fill="#fff" stroke="#0f6b55" stroke-width="1.15"/>
<circle cx="118.44" cy="238.52" r="2.30" fill="#fff" stroke="#0f6b55" stroke-width="1.15"/>
<circle cx="157.86" cy="239.51" r="2.30" fill="#fff" stroke="#0f6b55" stroke-width="1.15"/>
<circle cx="197.28" cy="239.51" r="2.30" fill="#fff" stroke="#0f6b55" stroke-width="1.15"/>
<circle cx="226.84" cy="238.19" r="2.30" fill="#fff" stroke="#0f6b55" stroke-width="1.15"/>
<path d="M39.60,231.26 L42.36,234.25 L39.60,237.24 L36.84,234.25 Z" fill="#fff" stroke="#f7941d" stroke-width="1.15"/>
<path d="M118.44,235.20 L121.20,238.19 L118.44,241.18 L115.68,238.19 Z" fill="#fff" stroke="#f7941d" stroke-width="1.15"/>
<path d="M157.86,235.53 L160.62,238.52 L157.86,241.51 L155.10,238.52 Z" fill="#fff" stroke="#f7941d" stroke-width="1.15"/>
<path d="M197.28,235.53 L200.04,238.52 L197.28,241.51 L194.52,238.52 Z" fill="#fff" stroke="#f7941d" stroke-width="1.15"/>
<path d="M226.84,234.22 L229.60,237.21 L226.84,240.20 L224.09,237.21 Z" fill="#fff" stroke="#f7941d" stroke-width="1.15"/>
<path d="M226.84,225.27 V234.03 M223.84,225.27 H229.84 M223.84,234.03 H229.84" stroke="#5e2b8a" stroke-opacity="0.8" stroke-width="1.2" fill="none"/>
<path d="M39.60,236.90 L42.59,231.84 L36.61,231.84 Z" fill="#fff" stroke="#5e2b8a" stroke-width="1.15" stroke-linejoin="miter"/>
<path d="M118.44,238.76 L121.43,233.70 L115.45,233.70 Z" fill="#fff" stroke="#5e2b8a" stroke-width="1.15" stroke-linejoin="miter"/>
<path d="M157.86,238.65 L160.85,233.59 L154.87,233.59 Z" fill="#fff" stroke="#5e2b8a" stroke-width="1.15" stroke-linejoin="miter"/>
<path d="M197.28,236.02 L200.27,230.96 L194.29,230.96 Z" fill="#fff" stroke="#5e2b8a" stroke-width="1.15" stroke-linejoin="miter"/>
<path d="M226.84,232.30 L229.84,227.24 L223.85,227.24 Z" fill="#fff" stroke="#5e2b8a" stroke-width="1.15" stroke-linejoin="miter"/>
<path d="M39.60,231.49 L42.59,236.55 L36.61,236.55 Z" fill="#fff" stroke="#3db54a" stroke-width="1.15" stroke-linejoin="miter"/>
<path d="M118.44,228.31 L121.43,233.37 L115.45,233.37 Z" fill="#fff" stroke="#3db54a" stroke-width="1.15" stroke-linejoin="miter"/>
<path d="M157.86,227.55 L160.85,232.61 L154.87,232.61 Z" fill="#fff" stroke="#3db54a" stroke-width="1.15" stroke-linejoin="miter"/>
<path d="M197.28,226.89 L200.27,231.95 L194.29,231.95 Z" fill="#fff" stroke="#3db54a" stroke-width="1.15" stroke-linejoin="miter"/>
<path d="M226.84,224.92 L229.84,229.98 L223.85,229.98 Z" fill="#fff" stroke="#3db54a" stroke-width="1.15" stroke-linejoin="miter"/>
<path d="M118.44,228.56 V233.81 M115.44,228.56 H121.44 M115.44,233.81 H121.44" stroke="#0e4c8c" stroke-opacity="0.8" stroke-width="1.2" fill="none"/>
<rect x="37.30" y="231.95" width="4.60" height="4.60" fill="#fff" stroke="#0e4c8c" stroke-width="1.15"/>
<rect x="116.14" y="228.88" width="4.60" height="4.60" fill="#fff" stroke="#0e4c8c" stroke-width="1.15"/>
<rect x="155.56" y="228.88" width="4.60" height="4.60" fill="#fff" stroke="#0e4c8c" stroke-width="1.15"/>
<rect x="194.98" y="226.37" width="4.60" height="4.60" fill="#fff" stroke="#0e4c8c" stroke-width="1.15"/>
<rect x="224.54" y="224.07" width="4.60" height="4.60" fill="#fff" stroke="#0e4c8c" stroke-width="1.15"/>
<circle cx="39.60" cy="234.25" r="2.30" fill="#fff" stroke="#c8102e" stroke-width="1.15"/>
<circle cx="118.44" cy="230.75" r="2.30" fill="#fff" stroke="#c8102e" stroke-width="1.15"/>
<circle cx="157.86" cy="228.34" r="2.30" fill="#fff" stroke="#c8102e" stroke-width="1.15"/>
<circle cx="197.28" cy="224.94" r="2.30" fill="#fff" stroke="#c8102e" stroke-width="1.15"/>
<circle cx="226.84" cy="223.30" r="2.30" fill="#fff" stroke="#c8102e" stroke-width="1.15"/>
<path d="M106.8,274.00 H121.6" stroke="#c8102e" stroke-width="1.3"/>
<circle cx="114.20" cy="274.00" r="2.00" fill="#fff" stroke="#c8102e" stroke-width="1.0"/>
<text x="125.4" y="276.20" font-size="7.3" text-anchor="start" fill="#231f20" stroke="#231f20" stroke-width="0.08" textLength="43.2" lengthAdjust="spacingAndGlyphs">Control (n=5)</text>
<path d="M106.8,284.40 H121.6" stroke="#0e4c8c" stroke-width="1.3"/>
<rect x="112.20" y="282.40" width="4.00" height="4.00" fill="#fff" stroke="#0e4c8c" stroke-width="1.0"/>
<text x="125.4" y="286.60" font-size="7.3" text-anchor="start" fill="#231f20" stroke="#231f20" stroke-width="0.08" textLength="53.9" lengthAdjust="spacingAndGlyphs">Palbociclib (n=5)</text>
<path d="M106.8,294.80 H121.6" stroke="#3db54a" stroke-width="1.3"/>
<path d="M114.20,292.40 L116.80,296.80 L111.60,296.80 Z" fill="#fff" stroke="#3db54a" stroke-width="1.0" stroke-linejoin="miter"/>
<text x="125.4" y="297.00" font-size="7.3" text-anchor="start" fill="#231f20" stroke="#231f20" stroke-width="0.08" textLength="50.1" lengthAdjust="spacingAndGlyphs">AZD8055 (n=5)</text>
<path d="M106.8,305.20 H121.6" stroke="#5e2b8a" stroke-width="1.3"/>
<path d="M114.20,307.50 L116.80,303.10 L111.60,303.10 Z" fill="#fff" stroke="#5e2b8a" stroke-width="1.0" stroke-linejoin="miter"/>
<text x="125.4" y="307.40" font-size="7.3" text-anchor="start" fill="#231f20" stroke="#231f20" stroke-width="0.08" textLength="54.2" lengthAdjust="spacingAndGlyphs">Everolimus (n=5)</text>
<path d="M106.8,315.60 H121.6" stroke="#f7941d" stroke-width="1.3"/>
<path d="M114.20,313.00 L116.60,315.60 L114.20,318.20 L111.80,315.60 Z" fill="#fff" stroke="#f7941d" stroke-width="1.0"/>
<text x="125.4" y="317.80" font-size="7.3" text-anchor="start" fill="#231f20" stroke="#231f20" stroke-width="0.08" textLength="89.7" lengthAdjust="spacingAndGlyphs">Palbociclib+AZD8055 (n=5)</text>
<path d="M106.8,326.00 H121.6" stroke="#0f6b55" stroke-width="1.3"/>
<circle cx="114.20" cy="326.00" r="2.00" fill="#fff" stroke="#0f6b55" stroke-width="1.0"/>
<text x="125.4" y="328.20" font-size="7.3" text-anchor="start" fill="#231f20" stroke="#231f20" stroke-width="0.08" textLength="94.0" lengthAdjust="spacingAndGlyphs">Palbociclib+Everolimus (n=5)</text>
<rect x="0.5" y="0.5" width="519" height="376" fill="none" stroke="#000" stroke-width="1.1"/>
</svg>
</body></html>
